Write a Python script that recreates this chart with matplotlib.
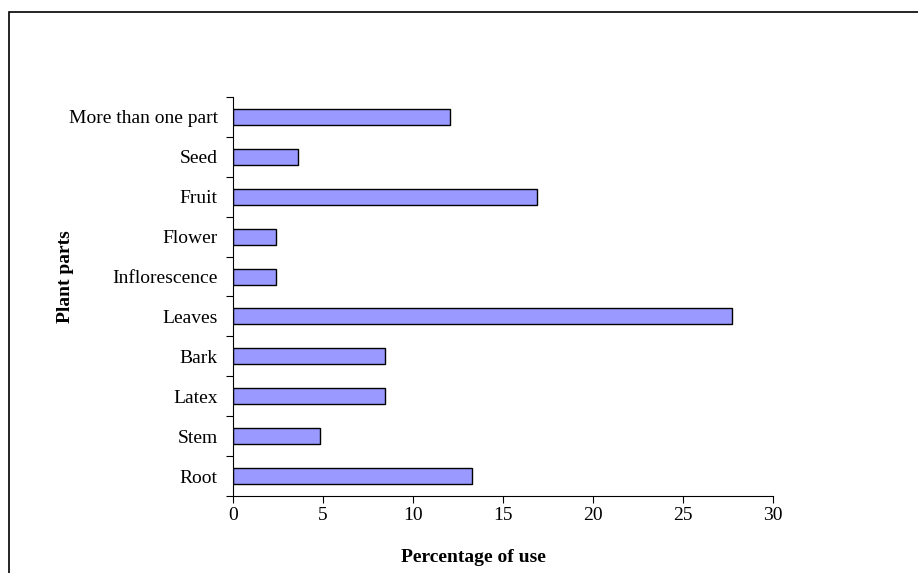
import numpy as np
import matplotlib.pyplot as plt
from matplotlib.patches import Rectangle

plt.rcParams['font.family'] = ['Liberation Serif', 'DejaVu Serif']

# data (bottom to top)
parts = ['Root', 'Stem', 'Latex', 'Bark', 'Leaves', 'Inflorescence',
         'Flower', 'Fruit', 'Seed', 'More than one part']
percent = [13.25, 4.82, 8.43, 8.43, 27.71, 2.41, 2.41, 16.87, 3.61, 12.05]
xticks = [0, 5, 10, 15, 20, 25, 30]

fig = plt.figure(figsize=(9.18, 5.73), dpi=100)
ax = fig.add_axes([233/918, 1-496/573, 540/918, 399/573])

y = np.arange(len(parts))
ax.barh(y, percent, height=0.4, color='#9999FF', edgecolor='black', linewidth=1.0)

ax.set_xlim(0, 30)
ax.set_ylim(-0.5, len(parts)-0.5)
ax.set_xticks(xticks)
ax.set_xticklabels([str(v) for v in xticks], fontsize=14)

# ticks between categories, labels at category centres
ax.set_yticks(np.arange(-0.5, len(parts), 1.0))
ax.set_yticklabels([])
ax.set_yticks(y, minor=True)
ax.set_yticklabels(parts, minor=True, fontsize=14)
ax.tick_params(axis='y', which='major', length=5, width=0.8, direction='out')
ax.tick_params(axis='y', which='minor', length=0, pad=11)
ax.tick_params(axis='x', length=5, width=0.8, direction='out', pad=3)

for s in ['top', 'right']:
    ax.spines[s].set_visible(False)
for s in ['left', 'bottom']:
    ax.spines[s].set_linewidth(0.8)

fig.text(473.5/918, 1-557/573, 'Percentage of use', ha='center', va='center',
         fontsize=14, fontweight='bold')
fig.text(66/918, 1-277/573, 'Plant parts', ha='center', va='center',
         rotation=90, fontsize=14, fontweight='bold')

# outer frame
fig.patches.append(Rectangle((9/918, -0.1), 1.2, 1.1 - 12/573, transform=fig.transFigure,
                             fill=False, edgecolor='black', linewidth=1.2))

fig.savefig('out.png', dpi=100)
